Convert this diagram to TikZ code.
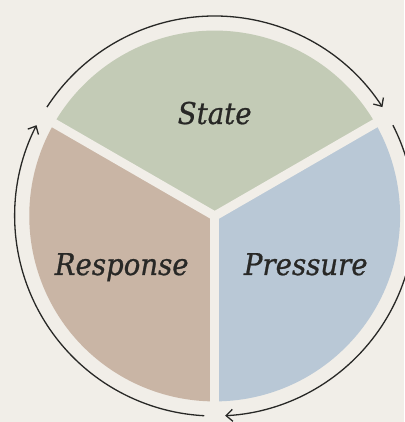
\documentclass[tikz,border=0pt]{standalone}
\usepackage{fontspec}
\setmainfont{DejaVu Serif}
\newfontfamily\lblfont[FakeBold=0.8,FakeStretch=0.92]{DejaVu Serif}
\usetikzlibrary{arrows.meta,calc}
\definecolor{bgc}{RGB}{241,238,232}
\definecolor{stc}{RGB}{195,203,182}
\definecolor{prc}{RGB}{185,200,214}
\definecolor{rsc}{RGB}{201,181,165}
\definecolor{ink}{RGB}{40,40,38}
\tikzset{
  lbl/.style={font=\lblfont\fontsize{30}{34}\selectfont\itshape, text=ink, inner sep=0pt, anchor=base},
  sep/.style={draw=bgc, line width=9pt},
  cyc/.style={draw=ink, line width=1.3pt, -{Straight Barb[length=6.5pt,width=12pt,line width=1.3pt]}}
}
\begin{document}
\begin{tikzpicture}[x=1pt,y=1pt]
\useasboundingbox (0,0) rectangle (404,422);
\fill[bgc] (0,0) rectangle (404,422);
\coordinate (C) at (214.7,206);
% sectors
\fill[stc] (C) -- ++(30:185.4) arc[start angle=30,end angle=150,radius=185.4pt] -- cycle;
\fill[prc] (C) -- ++(-90:185.4) arc[start angle=-90,end angle=30,radius=185.4pt] -- cycle;
\fill[rsc] (C) -- ++(150:185.4) arc[start angle=150,end angle=270,radius=185.4pt] -- cycle;
% separators
\draw[sep] (C) -- ++(30:192);
\draw[sep] (C) -- ++(150:192);
\draw[sep] (C) -- ++(-90:192);
% cycle arcs
\draw[cyc] ($(C)+(147:200)$) arc[start angle=147,end angle=33,radius=200pt];
\draw[cyc] ($(C)+(27:200)$) arc[start angle=27,end angle=-87,radius=200pt];
\draw[cyc] ($(C)+(-93:200)$) arc[start angle=-93,end angle=-207,radius=200pt];
% labels
\node[lbl] (state) at (214.7,298) {State};
\node[lbl] (response) at (121.7,147) {Response};
\node[lbl] (pressure) at (305.8,147) {Pressure};
\end{tikzpicture}
\end{document}
